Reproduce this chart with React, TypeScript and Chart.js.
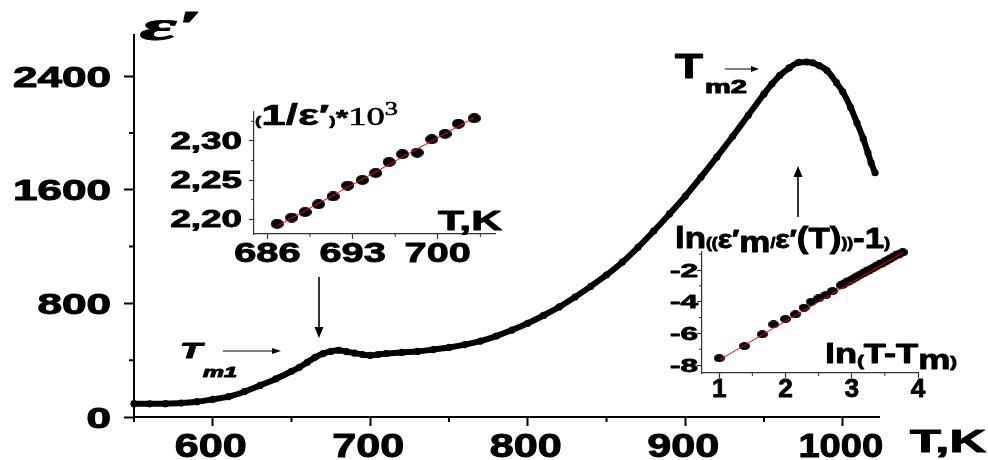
import React, { useEffect, useRef } from 'react';
import { Chart, registerables } from 'chart.js';
Chart.register(...registerables);

const W = 988;
const H = 460;
const SANS = '"Liberation Sans", Arial, sans-serif';
const SERIF = '"Liberation Serif", "Times New Roman", serif';

// ---------- main chart data ----------
const mainT = [550, 560, 570, 580, 590, 600, 610, 620, 630, 640, 650, 655, 660, 665, 670, 675, 680, 685, 690, 695, 700, 705, 710, 720, 730, 740, 750, 760, 770, 780, 790, 800, 810, 820, 830, 840, 850, 860, 870, 880, 890, 900, 910, 920, 930, 940, 950, 955, 960, 966, 972, 977, 981, 985, 990, 996, 1000, 1005, 1009, 1013, 1016, 1018, 1020.5];
const mainEps = [94, 93, 94, 98, 108, 124, 143, 178, 222, 268, 322, 350, 385, 420, 446, 462, 470, 460, 450, 440, 434, 440, 447, 455, 462, 475, 490, 510, 535, 570, 612, 660, 715, 775, 845, 920, 1000, 1090, 1195, 1310, 1430, 1555, 1690, 1830, 1975, 2125, 2275, 2345, 2405, 2458, 2497, 2500, 2494, 2475, 2440, 2354, 2290, 2180, 2072, 1960, 1860, 1790, 1720];
const mainXTicks = [600, 700, 800, 900, 1000];
const mainXMinor = [550, 650, 750, 850, 950];
const mainYTicks = [0, 800, 1600, 2400];
const mainYMinor = [400, 1200, 2000];

// ---------- inset 1: (1/eps')*10^3 vs T ----------
const in1T = [686.8, 688.0, 689.1, 690.2, 691.4, 692.6, 693.8, 694.9, 696.0, 697.1, 698.3, 699.5, 700.6, 701.7, 703.0];
const in1Inv = [2.194, 2.202, 2.209, 2.219, 2.229, 2.243, 2.250, 2.259, 2.273, 2.283, 2.285, 2.302, 2.309, 2.322, 2.329];
const in1FitT = [686.8, 703.0];
const in1FitInv = [2.191, 2.330];
const in1XTicks = [686, 693, 700];
const in1XMinor = [689.5, 696.5, 703.5];
const in1YTicks = [2.2, 2.25, 2.3];
const in1YLabels = ['2,20', '2,25', '2,30'];
const in1YMinor = [2.225, 2.275, 2.325];

// ---------- inset 2: ln((eps'm/eps'(T))-1) vs ln(T-Tm) ----------
const in2X = [1.0, 1.38, 1.65, 1.82, 2.0, 2.15, 2.28, 2.39, 2.5, 2.61, 2.71, 2.84, 2.88, 2.92, 2.97, 3.02, 3.07, 3.12, 3.17, 3.22, 3.27, 3.32, 3.37, 3.42, 3.47, 3.52, 3.57, 3.62, 3.67, 3.72, 3.77];
const in2Y = [-7.57, -6.8, -6.06, -5.43, -5.09, -4.8, -4.38, -4.0, -3.79, -3.58, -3.32, -2.97, -2.87, -2.78, -2.66, -2.55, -2.43, -2.32, -2.21, -2.09, -1.98, -1.87, -1.75, -1.64, -1.53, -1.41, -1.3, -1.19, -1.07, -0.97, -0.88];
const in2FitX = [1.0, 3.78];
const in2FitY = [-7.68, -0.88];
const in2XTicks = [1, 2, 3, 4];
const in2XMinor = [1.5, 2.5, 3.5];
const in2YTicks = [-2, -4, -6, -8];
const in2YMinor = [-1, -3, -5, -7];

type Run = { t: string; f: string; dy?: number };

function drawRuns(ctx: CanvasRenderingContext2D, runs: Run[], x: number, y: number, w?: number, stroke = 0.7) {
  ctx.save();
  let total = 0;
  const ws = runs.map((r) => {
    ctx.font = r.f;
    const m = ctx.measureText(r.t).width;
    total += m;
    return m;
  });
  const sx = w ? w / total : 1;
  ctx.translate(x, y);
  ctx.scale(sx, 1);
  ctx.fillStyle = '#000';
  ctx.strokeStyle = '#000';
  ctx.lineWidth = stroke;
  ctx.lineJoin = 'round';
  ctx.textBaseline = 'alphabetic';
  ctx.textAlign = 'left';
  let cx = 0;
  runs.forEach((r, i) => {
    ctx.font = r.f;
    ctx.fillText(r.t, cx, r.dy || 0);
    if (stroke > 0) ctx.strokeText(r.t, cx, r.dy || 0);
    cx += ws[i];
  });
  ctx.restore();
}

function label(ctx: CanvasRenderingContext2D, text: string, font: string, x: number, y: number, sx: number, align: 'left' | 'right' | 'center', stroke = 0.7) {
  ctx.save();
  ctx.font = font;
  const w = ctx.measureText(text).width * sx;
  const left = align === 'left' ? x : align === 'right' ? x - w : x - w / 2;
  ctx.translate(left, y);
  ctx.scale(sx, 1);
  ctx.fillStyle = '#000';
  ctx.strokeStyle = '#000';
  ctx.lineWidth = stroke;
  ctx.lineJoin = 'round';
  ctx.textBaseline = 'alphabetic';
  ctx.textAlign = 'left';
  ctx.fillText(text, 0, 0);
  if (stroke > 0) ctx.strokeText(text, 0, 0);
  ctx.restore();
}

function minorTicks(chart: any, axisId: string, values: number[], len: number, lw: number, color: string) {
  const ctx: CanvasRenderingContext2D = chart.ctx;
  const s = chart.scales[axisId];
  const a = chart.chartArea;
  ctx.save();
  ctx.strokeStyle = color;
  ctx.lineWidth = lw;
  ctx.beginPath();
  values.forEach((v) => {
    const p = s.getPixelForValue(v);
    if (s.isHorizontal()) {
      ctx.moveTo(p, a.bottom);
      ctx.lineTo(p, a.bottom + len);
    } else {
      ctx.moveTo(a.left, p);
      ctx.lineTo(a.left - len, p);
    }
  });
  ctx.stroke();
  ctx.restore();
}

function arrow(ctx: CanvasRenderingContext2D, x1: number, y1: number, x2: number, y2: number, lw: number, hl: number, hw: number) {
  const ang = Math.atan2(y2 - y1, x2 - x1);
  ctx.save();
  ctx.strokeStyle = '#000';
  ctx.fillStyle = '#000';
  ctx.lineWidth = lw;
  ctx.beginPath();
  ctx.moveTo(x1, y1);
  ctx.lineTo(x2 - Math.cos(ang) * hl * 0.8, y2 - Math.sin(ang) * hl * 0.8);
  ctx.stroke();
  ctx.translate(x2, y2);
  ctx.rotate(ang);
  ctx.beginPath();
  ctx.moveTo(0, 0);
  ctx.lineTo(-hl, -hw);
  ctx.lineTo(-hl, hw);
  ctx.closePath();
  ctx.fill();
  ctx.restore();
}

function axis(min: number, max: number, major: number[], tickLen: number, bw: number, horizontal: boolean, color: string) {
  return {
    type: 'linear',
    min,
    max,
    afterFit: (s: any) => {
      if (horizontal) s.height = 0;
      else s.width = 0;
    },
    afterBuildTicks: (s: any) => {
      s.ticks = major.map((v) => ({ value: v }));
    },
    ticks: { display: false },
    grid: { display: true, drawOnChartArea: false, drawTicks: true, tickLength: tickLen, tickWidth: bw, tickColor: color },
    border: { display: true, width: bw, color },
  };
}

function dot(w: number, h: number) {
  const c = document.createElement('canvas');
  c.width = w;
  c.height = h;
  const g = c.getContext('2d')!;
  g.fillStyle = '#000';
  g.beginPath();
  g.ellipse(w / 2, h / 2, w / 2, h / 2, 0, 0, Math.PI * 2);
  g.fill();
  return c;
}

function baseOptions(pad: { left: number; right: number; top: number; bottom: number }, scales: any) {
  return {
    responsive: false,
    animation: false as const,
    events: [] as any[],
    layout: { padding: pad },
    plugins: { legend: { display: false }, tooltip: { enabled: false } },
    scales,
  };
}

export default function App() {
  const mainRef = useRef<HTMLCanvasElement>(null);
  const in1Ref = useRef<HTMLCanvasElement>(null);
  const in2Ref = useRef<HTMLCanvasElement>(null);

  useEffect(() => {
    const mainPlugin = {
      id: 'mainText',
      afterDraw(chart: any) {
        const ctx: CanvasRenderingContext2D = chart.ctx;
        minorTicks(chart, 'x', mainXMinor, 5, 2, '#000');
        minorTicks(chart, 'y', mainYMinor, 5, 2, '#000');
        const xs = chart.scales.x;
        const ys = chart.scales.y;
        mainYTicks.forEach((v) => label(ctx, String(v), `bold 29px ${SANS}`, 111, ys.getPixelForValue(v) + 10.5, 1.52, 'right', 1));
        mainXTicks.forEach((v) => label(ctx, String(v), `bold 34px ${SANS}`, xs.getPixelForValue(v) - 2, 457, v >= 1000 ? 1.12 : 1.27, 'center', 1));
        drawRuns(ctx, [{ t: 'T,K', f: `bold 31px ${SANS}` }], 910, 452, 76, 1);
        drawRuns(ctx, [{ t: 'ε', f: `italic bold 42px ${SERIF}` }, { t: '′', f: `italic bold 42px ${SERIF}` }], 140, 40, 62, 1);
        drawRuns(ctx, [{ t: 'T', f: `italic bold 22px ${SANS}` }], 180, 358, 22, 1);
        drawRuns(ctx, [{ t: 'm1', f: `italic bold 15px ${SANS}` }], 203, 377, 34, 1);
        arrow(ctx, 223, 351, 281, 351, 1, 9, 3);
        drawRuns(ctx, [{ t: 'T', f: `bold 35px ${SANS}` }], 675, 78, 28, 1);
        drawRuns(ctx, [{ t: 'm2', f: `bold 18px ${SANS}` }], 705, 93, 42, 1);
        arrow(ctx, 725, 69, 759, 69, 1, 8, 3);
        arrow(ctx, 319, 277, 319, 338, 1.6, 11, 4.5);
        arrow(ctx, 798, 217, 798, 166, 1.6, 11, 4.5);
      },
    };

    const in1Plugin = {
      id: 'in1Text',
      afterDraw(chart: any) {
        const ctx: CanvasRenderingContext2D = chart.ctx;
        minorTicks(chart, 'x', in1XMinor, 3, 1, '#333');
        minorTicks(chart, 'y', in1YMinor, 3, 1, '#333');
        const xs = chart.scales.x;
        const ys = chart.scales.y;
        in1YTicks.forEach((v, i) => label(ctx, in1YLabels[i], `bold 23px ${SANS}`, 242, ys.getPixelForValue(v) + 8, 1.6, 'right', 0.9));
        in1XTicks.forEach((v) => label(ctx, String(v), `bold 28px ${SANS}`, xs.getPixelForValue(v), 262, 1.42, 'center', 0.9));
        drawRuns(
          ctx,
          [
            { t: '(', f: `bold 13px ${SANS}` },
            { t: '1/ε′', f: `bold 30px ${SANS}` },
            { t: ')', f: `bold 13px ${SANS}` },
            { t: '*', f: `bold 22px ${SANS}` },
            { t: '10', f: `25px ${SERIF}` },
            { t: '3', f: `18px ${SERIF}`, dy: -10 },
          ],
          255,
          125,
          143,
          0.6
        );
        drawRuns(ctx, [{ t: 'T,K', f: `bold 28px ${SANS}` }], 438, 230, 64, 0.9);
      },
    };

    const in2Plugin = {
      id: 'in2Text',
      afterDraw(chart: any) {
        const ctx: CanvasRenderingContext2D = chart.ctx;
        minorTicks(chart, 'x', in2XMinor, 3, 1, '#333');
        minorTicks(chart, 'y', in2YMinor, 3, 1, '#333');
        const xs = chart.scales.x;
        const ys = chart.scales.y;
        in2YTicks.forEach((v) => label(ctx, String(v), `bold 18px ${SANS}`, 698, ys.getPixelForValue(v) + 6.5, 1.75, 'right', 0.8));
        in2XTicks.forEach((v) => label(ctx, String(v), `bold 25px ${SANS}`, xs.getPixelForValue(v), 397, 1.05, 'center', 0.8));
        drawRuns(
          ctx,
          [
            { t: 'ln', f: `bold 30px ${SANS}` },
            { t: '((', f: `bold 15px ${SANS}` },
            { t: 'ε′', f: `bold 26px ${SANS}` },
            { t: 'm', f: `bold 30px ${SANS}`, dy: 4 },
            { t: '/', f: `bold 15px ${SANS}` },
            { t: 'ε′', f: `bold 26px ${SANS}` },
            { t: '(T)', f: `bold 30px ${SANS}` },
            { t: '))', f: `bold 15px ${SANS}` },
            { t: '-1', f: `bold 30px ${SANS}` },
            { t: ')', f: `bold 15px ${SANS}` },
          ],
          675,
          248,
          215,
          0.9
        );
        drawRuns(
          ctx,
          [
            { t: 'ln', f: `bold 27px ${SANS}` },
            { t: '(', f: `bold 15px ${SANS}`, dy: 3 },
            { t: 'T-T', f: `bold 27px ${SANS}` },
            { t: 'm', f: `bold 27px ${SANS}`, dy: 6 },
            { t: ')', f: `bold 15px ${SANS}`, dy: 4 },
          ],
          825,
          363,
          132,
          0.9
        );
      },
    };

    const main = new Chart(mainRef.current!, {
      type: 'scatter',
      data: {
        datasets: [
          {
            data: mainT.map((t, i) => ({ x: t, y: mainEps[i] })),
            showLine: true,
            borderColor: '#000',
            borderWidth: 6,
            pointRadius: 3.6,
            pointBackgroundColor: '#000',
            pointBorderWidth: 0,
            cubicInterpolationMode: 'monotone',
            clip: false,
          } as any,
        ],
      },
      options: baseOptions(
        { left: 134, right: W - 879, top: 35, bottom: H - 417 },
        { x: axis(550, 1023, mainXTicks, 9, 2, true, '#000'), y: axis(0, 2690, mainYTicks, 10, 2, false, '#000') }
      ) as any,
      plugins: [mainPlugin],
    });

    const in1 = new Chart(in1Ref.current!, {
      type: 'scatter',
      data: {
        datasets: [
          {
            data: in1FitT.map((t, i) => ({ x: t, y: in1FitInv[i] })),
            showLine: true,
            borderColor: '#ff0000',
            borderWidth: 1,
            pointRadius: 0,
            clip: false,
          } as any,
          {
            data: in1T.map((t, i) => ({ x: t, y: in1Inv[i] })),
            pointStyle: dot(13, 10),
            pointRadius: 6,
            clip: false,
          } as any,
        ],
      },
      options: baseOptions(
        { left: 254, right: W - 495, top: 112, bottom: H - 234 },
        { x: axis(684.9, 704.7, in1XTicks, 5, 1.2, true, '#333'), y: axis(2.181, 2.337, in1YTicks, 5, 1.2, false, '#333') }
      ) as any,
      plugins: [in1Plugin],
    });

    const in2 = new Chart(in2Ref.current!, {
      type: 'scatter',
      data: {
        datasets: [
          {
            data: in2FitX.map((t, i) => ({ x: t, y: in2FitY[i] })),
            showLine: true,
            borderColor: '#ff0000',
            borderWidth: 1,
            pointRadius: 0,
            clip: false,
          } as any,
          {
            data: in2X.map((t, i) => ({ x: t, y: in2Y[i] })),
            pointStyle: dot(11, 8),
            pointRadius: 5,
            clip: false,
          } as any,
        ],
      },
      options: baseOptions(
        { left: 702, right: W - 918, top: 252, bottom: H - 373 },
        { x: axis(0.74, 4.0, in2XTicks, 5, 1.2, true, '#333'), y: axis(-8.5, -0.86, in2YTicks, 5, 1.2, false, '#333') }
      ) as any,
      plugins: [in2Plugin],
    });

    return () => {
      main.destroy();
      in1.destroy();
      in2.destroy();
    };
  }, []);

  const cs: React.CSSProperties = { position: 'absolute', left: 0, top: 0, width: W, height: H };
  return (
    <div style={{ position: 'fixed', left: 0, top: 0, width: W, height: H, background: '#fff', overflow: 'hidden' }}>
      <canvas ref={mainRef} width={W} height={H} style={cs} />
      <canvas ref={in1Ref} width={W} height={H} style={{ ...cs, pointerEvents: 'none' }} />
      <canvas ref={in2Ref} width={W} height={H} style={{ ...cs, pointerEvents: 'none' }} />
    </div>
  );
}
